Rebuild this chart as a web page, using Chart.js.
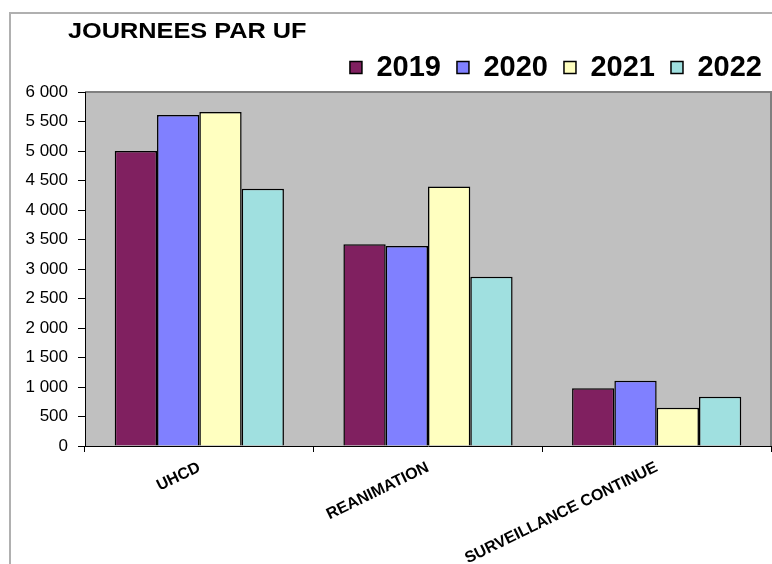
<!DOCTYPE html>
<html>
<head>
<meta charset="utf-8">
<script src="https://cdn.jsdelivr.net/npm/chart.js@4.4.1/dist/chart.umd.min.js"></script>
<style>
  html, body { margin: 0; padding: 0; background: #fff; overflow: hidden; }
  #wrap { position: relative; width: 772px; height: 564px; }
</style>
</head>
<body>
<div id="wrap"><canvas id="myChart"></canvas></div>
<script>
var units = ['UHCD', 'REANIMATION', 'SURVEILLANCE CONTINUE'];
var years = ['2019', '2020', '2021', '2022'];
var days2019 = [5000, 3420, 980];
var days2020 = [5610, 3390, 1105];
var days2021 = [5660, 4400, 650];
var days2022 = [4360, 2870, 835];
var yTicks = [0, 500, 1000, 1500, 2000, 2500, 3000, 3500, 4000, 4500, 5000, 5500, 6000];

var colors = ['#802060', '#8080ff', '#ffffc0', '#a0e0e0'];
var fontFamily = "'Liberation Sans', Arial, sans-serif";

function spaced(v) {
  return String(v).replace(/\B(?=(\d{3})+(?!\d))/g, ' ');
}

// grey plot background, outer frame and the title
var frame = {
  id: 'frame',
  beforeDraw: function (chart) {
    var c = chart.ctx, a = chart.chartArea;
    c.save();
    c.fillStyle = '#c0c0c0';
    c.fillRect(a.left, a.top, a.right - a.left, a.bottom - a.top);
    c.strokeStyle = '#808080';
    c.lineWidth = 2;
    c.beginPath();
    c.moveTo(a.left, a.top);
    c.lineTo(a.right, a.top);
    c.lineTo(a.right, a.bottom);
    c.stroke();
    c.strokeStyle = '#b0b0b0';
    c.lineWidth = 2;
    c.beginPath();
    c.moveTo(10, chart.height);
    c.lineTo(10, 13);
    c.lineTo(chart.width, 13);
    c.stroke();
    c.fillStyle = '#000';
    c.font = 'bold 22px ' + fontFamily;
    c.textBaseline = 'alphabetic';
    c.translate(68, 38);
    c.scale(1.15, 1);
    c.fillText('JOURNEES PAR UF', 0, 0);
    c.restore();
  },
  afterLayout: function (chart) {
    chart.legend.left += 7;
    chart.legend.right += 7;
  }
};

var ctx = document.getElementById('myChart').getContext('2d');
var myChart = new Chart(ctx, {
  type: 'bar',
  data: {
    labels: units,
    datasets: [
      { label: years[0], data: days2019, backgroundColor: colors[0] },
      { label: years[1], data: days2020, backgroundColor: colors[1] },
      { label: years[2], data: days2021, backgroundColor: colors[2] },
      { label: years[3], data: days2022, backgroundColor: colors[3] }
    ]
  },
  options: {
    responsive: true,
    maintainAspectRatio: false,
    animation: false,
    layout: { padding: { top: 37, right: 1, bottom: 0, left: 0 } },
    datasets: {
      bar: {
        borderColor: '#000',
        borderWidth: 1.5,
        categoryPercentage: 0.74,
        barPercentage: 1
      }
    },
    plugins: {
      tooltip: { enabled: false },
      legend: {
        position: 'top',
        align: 'end',
        labels: {
          boxWidth: 12,
          boxHeight: 12,
          padding: 16,
          color: '#000',
          font: { family: fontFamily, size: 29, weight: 'bold' }
        }
      }
    },
    scales: {
      x: {
        afterFit: function (scale) { scale.height = 118; },
        grid: { drawOnChartArea: false, color: '#000', tickLength: 6 },
        border: { color: '#000', width: 1 },
        ticks: {
          color: '#000',
          minRotation: 26,
          maxRotation: 26,
          padding: 6,
          font: { family: fontFamily, size: 16, weight: 'bold' }
        }
      },
      y: {
        min: 0,
        max: 6000,
        afterFit: function (scale) { scale.width = 85; },
        afterBuildTicks: function (scale) {
          scale.ticks = yTicks.map(function (v) { return { value: v }; });
        },
        grid: { drawOnChartArea: false, color: '#000', tickLength: 7 },
        border: { color: '#000', width: 1 },
        ticks: {
          color: '#000',
          padding: 10,
          font: { family: fontFamily, size: 17 },
          callback: function (v) { return spaced(v); }
        }
      }
    }
  },
  plugins: [frame]
});
</script>
</body>
</html>
